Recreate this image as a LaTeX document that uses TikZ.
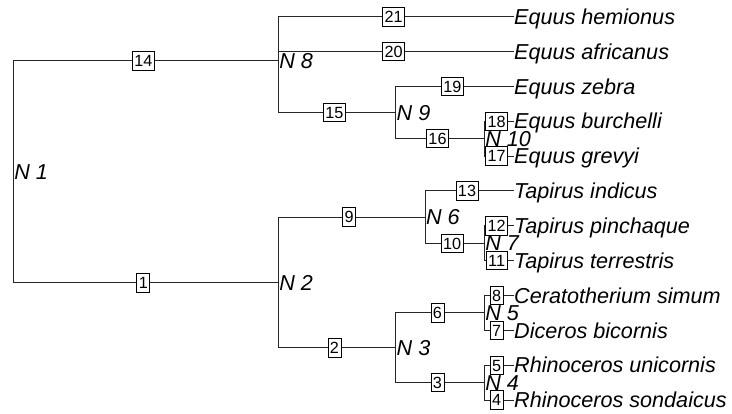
\documentclass[tikz,border=0pt]{standalone}
\usepackage{fontspec}
\setmainfont{Liberation Sans}
\begin{document}
\begin{tikzpicture}[x=1pt,y=-1pt,
  edge/.style={draw=black!85, line width=1pt},
  ebox/.style={draw=black, fill=white, line width=0.8pt, inner xsep=2pt, inner ysep=0pt,
    minimum height=18.5pt, font=\fontsize{16.2}{18}\selectfont, text height=11.6pt, text depth=0pt, xshift=-2.5pt},
  tiplab/.style={anchor=west, inner sep=0pt, font=\fontsize{21.6}{24}\selectfont\itshape, text height=15.5pt, text depth=0pt},
  nlab/.style={anchor=west, inner sep=0pt, xshift=0.8pt, font=\fontsize{21.6}{24}\selectfont\itshape, text height=15.5pt, text depth=0pt}
]
\useasboundingbox (0,0) rectangle (732,413);
% internal nodes
\coordinate (n1) at (13.3,171.7);
\coordinate (n8) at (278.3,60.7);
\coordinate (n9) at (395.7,112.5);
\coordinate (n10) at (484.3,138.6);
\coordinate (n2) at (278.3,282.7);
\coordinate (n6) at (425,217);
\coordinate (n7) at (484.3,243.2);
\coordinate (n3) at (395.7,347.8);
\coordinate (n5) at (484.3,312.9);
\coordinate (n4) at (484.3,382.6);
% tips
\coordinate (c1) at (514,16.7);
\coordinate (c2) at (514,51.5);
\coordinate (c3) at (514,86.4);
\coordinate (c4) at (514,121.2);
\coordinate (c5) at (514,156.1);
\coordinate (c6) at (514,190.9);
\coordinate (c7) at (514,225.8);
\coordinate (c8) at (514,260.6);
\coordinate (c9) at (514,295.5);
\coordinate (c10) at (514,330.3);
\coordinate (c11) at (514,365.2);
\coordinate (c12) at (514,400);
% edges
\path[edge] (n1) |- (n8) node[ebox,pos=0.75] (e14) {14};
\path[edge] (n8) |- (c1) node[ebox,pos=0.75] (e21) {21};
\path[edge] (n8) |- (c2) node[ebox,pos=0.75] (e20) {20};
\path[edge] (n8) |- (n9) node[ebox,pos=0.75] (e15) {15};
\path[edge] (n9) |- (c3) node[ebox,pos=0.75] (e19) {19};
\path[edge] (n9) |- (n10) node[ebox,pos=0.75] (e16) {16};
\path[edge] (n10) |- (c4) node[ebox,pos=0.75] (e18) {18};
\path[edge] (n10) |- (c5) node[ebox,pos=0.75] (e17) {17};
\path[edge] (n1) |- (n2) node[ebox,pos=0.75] (e1) {1};
\path[edge] (n2) |- (n6) node[ebox,pos=0.75] (e9) {9};
\path[edge] (n6) |- (c6) node[ebox,pos=0.75] (e13) {13};
\path[edge] (n6) |- (n7) node[ebox,pos=0.75] (e10) {10};
\path[edge] (n7) |- (c7) node[ebox,pos=0.75] (e12) {12};
\path[edge] (n7) |- (c8) node[ebox,pos=0.75] (e11) {11};
\path[edge] (n2) |- (n3) node[ebox,pos=0.75] (e2) {2};
\path[edge] (n3) |- (n5) node[ebox,pos=0.75] (e6) {6};
\path[edge] (n5) |- (c9) node[ebox,pos=0.75] (e8) {8};
\path[edge] (n5) |- (c10) node[ebox,pos=0.75] (e7) {7};
\path[edge] (n3) |- (n4) node[ebox,pos=0.75] (e3) {3};
\path[edge] (n4) |- (c11) node[ebox,pos=0.75] (e5) {5};
\path[edge] (n4) |- (c12) node[ebox,pos=0.75] (e4) {4};
% internal node labels
\node[nlab] (l1) at (n1) {N 1};
\node[nlab] (l8) at (n8) {N 8};
\node[nlab] (l9) at (n9) {N 9};
\node[nlab] (l10) at (n10) {N 10};
\node[nlab] (l2) at (n2) {N 2};
\node[nlab] (l6) at (n6) {N 6};
\node[nlab] (l7) at (n7) {N 7};
\node[nlab] (l3) at (n3) {N 3};
\node[nlab] (l5) at (n5) {N 5};
\node[nlab] (l4) at (n4) {N 4};
% tip labels
\node[tiplab] (t1) at (c1) {Equus hemionus};
\node[tiplab] (t2) at (c2) {Equus africanus};
\node[tiplab] (t3) at (c3) {Equus zebra};
\node[tiplab] (t4) at (c4) {Equus burchelli};
\node[tiplab] (t5) at (c5) {Equus grevyi};
\node[tiplab] (t6) at (c6) {Tapirus indicus};
\node[tiplab] (t7) at (c7) {Tapirus pinchaque};
\node[tiplab] (t8) at (c8) {Tapirus terrestris};
\node[tiplab] (t9) at (c9) {Ceratotherium simum};
\node[tiplab] (t10) at (c10) {Diceros bicornis};
\node[tiplab] (t11) at (c11) {Rhinoceros unicornis};
\node[tiplab] (t12) at (c12) {Rhinoceros sondaicus};
\end{tikzpicture}
\end{document}
